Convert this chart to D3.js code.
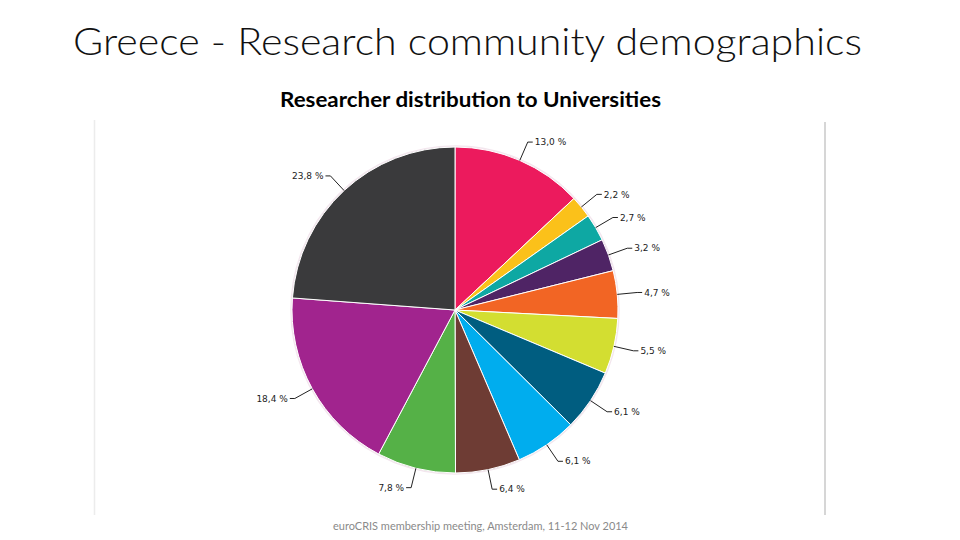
<!DOCTYPE html>
<html>
<head>
<meta charset="utf-8">
<script src="https://cdn.jsdelivr.net/npm/d3@7"></script>
<style>
  html, body { margin: 0; padding: 0; background: #fff; }
  svg { display: block; }
</style>
</head>
<body>
<svg id="chart" width="960" height="540"></svg>
<script>
// ---- data ----
const categories = ["U1","U2","U3","U4","U5","U6","U7","U8","U9","U10","U11","U12"];
const values = [13.0, 2.2, 2.7, 3.2, 4.7, 5.5, 6.1, 6.1, 6.4, 7.8, 18.4, 23.8];
const labels = ["13,0 %","2,2 %","2,7 %","3,2 %","4,7 %","5,5 %","6,1 %","6,1 %","6,4 %","7,8 %","18,4 %","23,8 %"];
const colors = ["#ec1a5d","#fbc11a","#0ea8a3","#4f2465","#f26524","#d3de31","#005d80","#00adee","#6e3c34","#55b147","#a1248e","#3a3a3c"];
const title = "Greece - Research community demographics";
const subtitle = "Researcher distribution to Universities";
const footer = "euroCRIS membership meeting, Amsterdam, 11-12 Nov 2014";

const svg = d3.select("#chart");

// slide texts
svg.append("text").attr("x", 73).attr("y", 55)
  .attr("font-family", "Lato, 'Open Sans', sans-serif").attr("font-weight", 300)
  .attr("font-size", 37).attr("fill", "#111")
  .attr("textLength", 789).attr("lengthAdjust", "spacingAndGlyphs")
  .text(title);

svg.append("text").attr("x", 280).attr("y", 107)
  .attr("font-family", "Lato, 'Open Sans', sans-serif").attr("font-weight", 700)
  .attr("font-size", 20).attr("fill", "#000")
  .attr("textLength", 381).attr("lengthAdjust", "spacingAndGlyphs")
  .text(subtitle);

svg.append("text").attr("x", 333).attr("y", 530)
  .attr("font-family", "Lato, 'Open Sans', sans-serif")
  .attr("font-size", 12).attr("fill", "#8a8a8a")
  .attr("textLength", 295).attr("lengthAdjust", "spacingAndGlyphs")
  .text(footer);

// image frame edges
svg.append("line").attr("x1", 94.5).attr("x2", 94.5).attr("y1", 120).attr("y2", 515)
  .attr("stroke", "#ececec").attr("stroke-width", 1.5);
svg.append("line").attr("x1", 825).attr("x2", 825).attr("y1", 122).attr("y2", 515)
  .attr("stroke", "#c8c8c8").attr("stroke-width", 1.5);

// pie
const cx = 455, cy = 310, r = 163, dist = 20;
const color = d3.scaleOrdinal().domain(categories).range(colors);
const pie = d3.pie().sort(null).value(d => d.v);
const data = categories.map((c, i) => ({c, v: values[i], label: labels[i]}));
const arcs = pie(data);
const arc = d3.arc().innerRadius(0).outerRadius(r);

const g = svg.append("g").attr("transform", `translate(${cx},${cy})`);

g.append("circle").attr("r", r + 1).attr("fill", "none")
  .attr("stroke", "#f3e6ee").attr("stroke-width", 1.5);

g.selectAll("path.slice").data(arcs).join("path")
  .attr("class", "slice")
  .attr("d", arc)
  .attr("fill", d => color(d.data.c))
  .attr("stroke", "#fff").attr("stroke-width", 1)
  .attr("stroke-linejoin", "round");

// labels with connectors
const R = r + dist;
arcs.forEach(d => {
  const a = (d.startAngle + d.endAngle) / 2;
  const right = a < Math.PI;
  const sgn = right ? 1 : -1;
  const ex = r * Math.sin(a), ey = -r * Math.cos(a);
  const ly = -R * Math.cos(a);
  const lx = sgn * Math.sqrt(Math.max(0, R * R - ly * ly));
  g.append("path")
    .attr("d", `M${ex},${ey}L${lx},${ly}L${lx + sgn * 5},${ly}`)
    .attr("fill", "none").attr("stroke", "#222").attr("stroke-width", 1);
  g.append("text")
    .attr("x", lx + sgn * 7).attr("y", ly)
    .attr("dy", "0.35em")
    .attr("text-anchor", right ? "start" : "end")
    .attr("font-family", "'DejaVu Sans', Verdana, sans-serif")
    .attr("font-size", 9).attr("fill", "#222")
    .text(d.data.label);
});
</script>
</body>
</html>
